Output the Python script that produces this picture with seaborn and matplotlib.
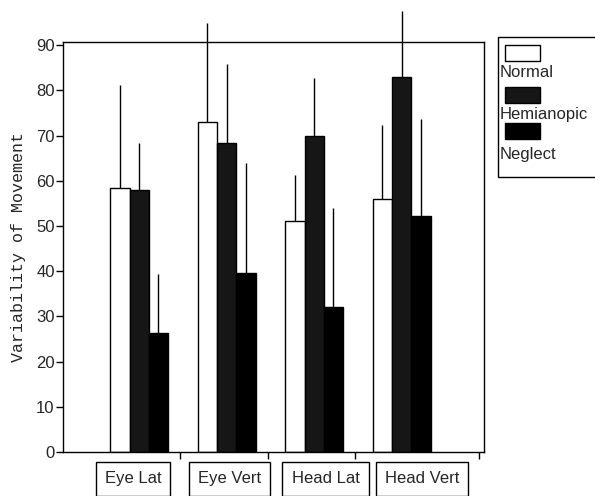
import numpy as np
import pandas as pd
import matplotlib
matplotlib.use("Agg")
import matplotlib.pyplot as plt
from matplotlib.patches import Rectangle
import seaborn as sns

# ---- data ----
categories = ["Eye Lat", "Eye Vert", "Head Lat", "Head Vert"]
groups = ["Normal", "Hemianopic", "Neglect"]
normal_mean = [58.5, 73.0, 51.2, 56.0]
hemi_mean = [58.0, 68.3, 70.0, 83.0]
neglect_mean = [26.3, 39.7, 32.1, 52.1]
normal_sd = [22.7, 22.0, 10.0, 16.3]
hemi_sd = [10.3, 17.5, 12.7, 14.5]
neglect_sd = [13.0, 24.3, 21.9, 21.6]
y_ticks = [0, 10, 20, 30, 40, 50, 60, 70, 80, 90]

colors = {"Normal": "#ffffff", "Hemianopic": "#161616", "Neglect": "#000000"}

df = pd.DataFrame({
    "cat": categories * 3,
    "group": [g for g in groups for _ in categories],
    "mean": normal_mean + hemi_mean + neglect_mean,
    "sd": normal_sd + hemi_sd + neglect_sd,
})

sns.set_theme(style="white")
plt.rcParams["font.family"] = ["Liberation Sans", "DejaVu Sans"]

fig = plt.figure(figsize=(5.95, 4.96), dpi=100)
ax = fig.add_axes([63 / 595, 1 - 452 / 496, (484 - 63) / 595, (452 - 42) / 496])

sns.barplot(data=df, x="cat", y="mean", hue="group", order=categories,
            hue_order=groups, palette=colors, width=0.66, errorbar=None,
            edgecolor="black", linewidth=1.0, legend=False, ax=ax)

# upper error lines drawn at each bar's centre
bars = list(ax.patches)
k = 0
for g in groups:
    sub = df[df["group"] == g].set_index("cat").loc[categories]
    for c in categories:
        p = bars[k]
        xc = p.get_x() + p.get_width() / 2
        top = p.get_height()
        ax.vlines(xc, top, top + sub.loc[c, "sd"], color="black", lw=1.0,
                  zorder=3, clip_on=False)
        k += 1

ax.set_xlim(-0.87, 3.94)
ax.set_ylim(0, 90.7)
ax.set_yticks(y_ticks)
ax.tick_params(axis="y", direction="out", length=5, width=1, labelsize=12,
               pad=1, left=True, color="black")
ax.set_xticks([i * 1.1 - 0.07 for i in range(len(categories))])
ax.set_xticklabels(categories, fontsize=12)
ax.tick_params(axis="x", length=0, pad=14)
for lab in ax.get_xticklabels():
    lab.set_bbox(dict(boxstyle="square,pad=0.55", fc="white", ec="black", lw=1))
ax.set_xticks([0.47, 1.47, 2.47, 3.88], minor=True)
ax.tick_params(axis="x", which="minor", direction="out", length=5, width=1,
               bottom=True, color="black")
ax.set_xlabel("")
ax.set_ylabel("Variability of Movement", family=["Liberation Mono", "DejaVu Sans Mono"],
              fontsize=12)
ax.yaxis.set_label_coords(-0.088, 0.5)
for s in ax.spines.values():
    s.set_visible(True)
    s.set_color("black")
    s.set_linewidth(1.0)

# legend (patches above labels, as in the reference)
fig.patches.append(Rectangle((498 / 595, 1 - 177 / 496), 0.3, 140 / 496,
                             transform=fig.transFigure, fc="white", ec="black",
                             lw=1.0))
patch_tops = [45, 87, 123]
text_tops = [65, 107, 147]
for g, pt, tt in zip(groups, patch_tops, text_tops):
    fig.patches.append(Rectangle((505 / 595, 1 - (pt + 16) / 496), 35 / 595, 16 / 496,
                                 transform=fig.transFigure, fc=colors[g],
                                 ec="black", lw=1.0))
    fig.text(500 / 595, 1 - tt / 496, g, fontsize=12, va="top", ha="left")

fig.savefig("out.png", dpi=100, facecolor="white")
